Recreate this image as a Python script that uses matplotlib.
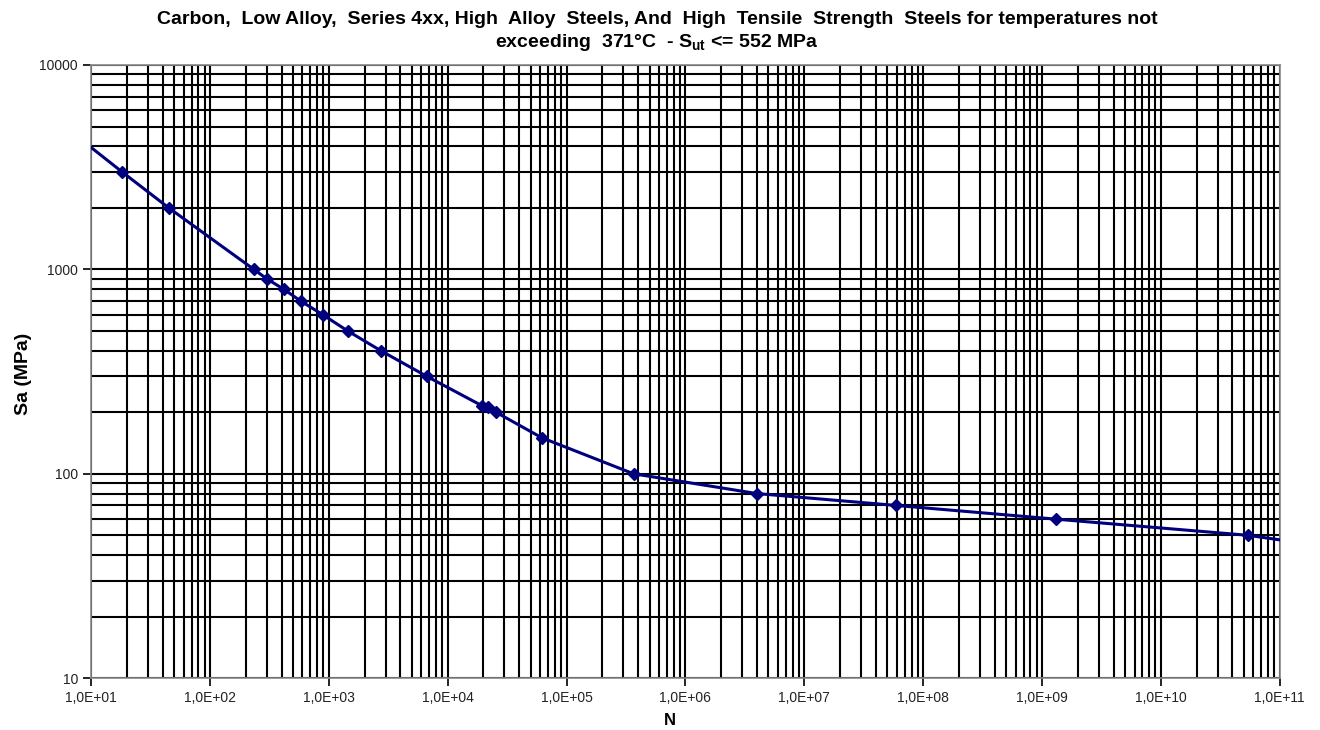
import numpy as np
import matplotlib
matplotlib.use("Agg")
import matplotlib.pyplot as plt
from matplotlib.ticker import LogLocator, FuncFormatter, NullFormatter

# fatigue curve
cycles = [1.0e1, 1.82e1, 4.5e1, 2.34e2, 3.0e2, 4.17e2, 5.8e2, 8.9e2, 1.44e3,
          2.74e3, 6.65e3, 1.95e4, 2.2e4, 2.55e4, 6.2e4, 3.66e5, 4.0e6,
          5.9e7, 1.3e9, 5.4e10, 1.0e11]
stress = [3950, 3000, 2000, 1000, 900, 800, 700, 600, 500,
          400, 300, 215, 212, 200, 150, 100, 80,
          70, 60, 50, 47.5]
# first and last point of the line carry no marker
marked = list(range(1, len(cycles) - 1))

title = ("Carbon,  Low Alloy,  Series 4xx, High  Alloy  Steels, And  High  Tensile  Strength  Steels for temperatures not\n"
         "exceeding  371\u00b0C  - $\\mathrm{S_{ut}}$ <= 552 MPa")

plt.rcParams['font.family'] = ['Liberation Sans', 'DejaVu Sans']
plt.rcParams['mathtext.fontset'] = 'custom'
plt.rcParams['mathtext.rm'] = 'Liberation Sans:bold'
plt.rcParams['mathtext.it'] = 'Liberation Sans:bold'
plt.rcParams['mathtext.bf'] = 'Liberation Sans:bold'

fig = plt.figure(figsize=(13.2, 7.3), dpi=100)
ax = fig.add_axes([0.069, 0.071, 0.9005, 0.840])

ax.plot(cycles, stress, color='#00007f', lw=2.2, zorder=3)
ax.plot([cycles[i] for i in marked], [stress[i] for i in marked], ls='none',
        marker='D', ms=6.5, color='#00007f', zorder=4)

ax.set_xscale('log')
ax.set_yscale('log')
ax.set_xlim(1e1, 1e11)
ax.set_ylim(10, 10000)

ax.xaxis.set_major_locator(LogLocator(base=10, numticks=20))
ax.xaxis.set_minor_locator(LogLocator(base=10, subs=np.arange(2, 10), numticks=200))
ax.yaxis.set_major_locator(LogLocator(base=10, numticks=20))
ax.yaxis.set_minor_locator(LogLocator(base=10, subs=np.arange(2, 10), numticks=200))
ax.xaxis.set_minor_formatter(NullFormatter())
ax.yaxis.set_minor_formatter(NullFormatter())
ax.xaxis.set_major_formatter(FuncFormatter(lambda v, p: "1,0E+%02d" % round(np.log10(v))))
ax.yaxis.set_major_formatter(FuncFormatter(lambda v, p: "%d" % round(v)))

ax.grid(True, which='both', color='black', lw=1.5)
ax.tick_params(which='minor', length=0)
ax.tick_params(which='major', length=6, width=1.2, color='black',
               labelsize=10, labelcolor='#222222', direction='out')
for s in ax.spines.values():
    s.set_color('#888888')
    s.set_linewidth(1.2)

fig.text(657 / 1320, 1 - 11 / 730, title, ha='center', va='top', fontsize=14,
         fontweight='bold', linespacing=1.25)
ax.set_xlabel("N", fontsize=12, fontweight='bold')
ax.set_ylabel("Sa (MPa)", fontsize=14, fontweight='bold')
ax.xaxis.set_label_coords(0.487, -0.057)
ax.yaxis.set_label_coords(-0.050, 0.497)

fig.savefig("out.png", dpi=100)
